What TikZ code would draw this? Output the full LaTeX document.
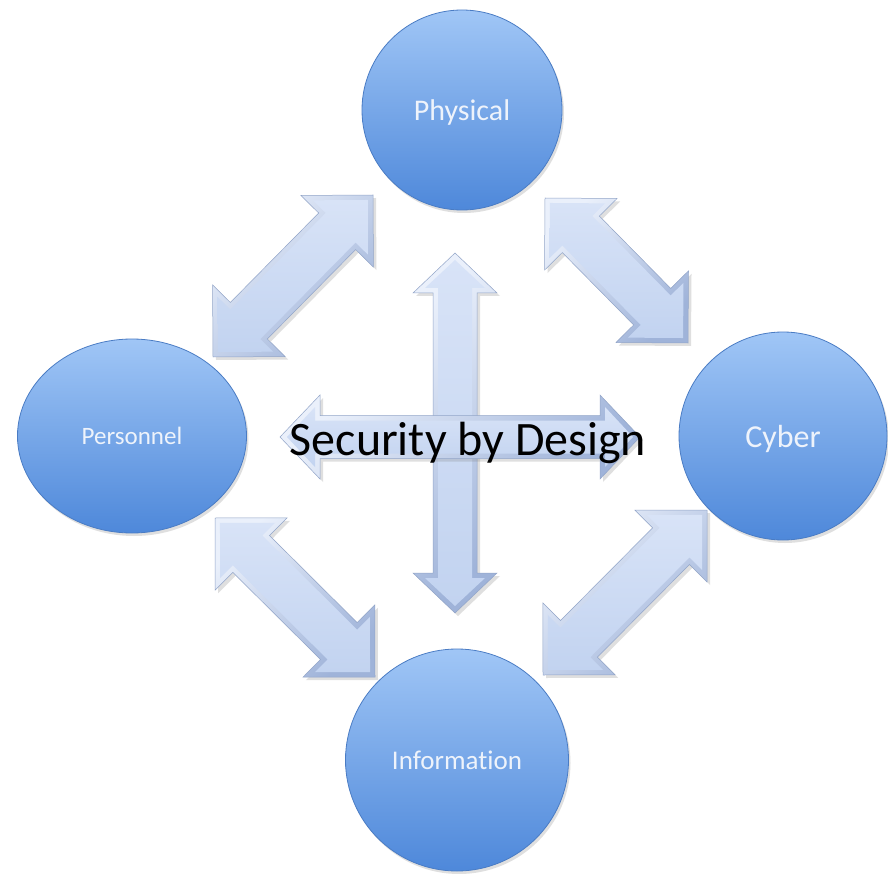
\documentclass[tikz,border=0pt]{standalone}
\usepackage{fontspec}
\setmainfont{Carlito}[Ligatures=NoCommon]
\usetikzlibrary{calc,shadows,shapes.geometric}
\definecolor{arrowhi}{HTML}{EAF0FB}
\definecolor{arrowdark}{HTML}{9FB3D9}
\definecolor{arrowlight}{HTML}{D8E3F7}
\definecolor{arrowmid}{HTML}{C2D3F0}
\definecolor{circtop}{HTML}{A0C6F6}
\definecolor{circmid}{HTML}{6FA2E8}
\definecolor{circbot}{HTML}{4E88DA}
\definecolor{circrim}{HTML}{4A7CC4}
\definecolor{labeltext}{HTML}{EEF3FB}
\tikzset{
  sphere/.style={ellipse, draw=circrim, line width=0.8pt, top color=circtop,
    middle color=circmid, bottom color=circbot, text=labeltext, inner sep=0pt,
    text depth=0pt,
    drop shadow={opacity=0.25, shadow xshift=2pt, shadow yshift=-3pt}},
  arrowouter/.style={top color=arrowhi, bottom color=arrowdark, shading angle=45,
    draw=arrowdark!92!black, line width=0.5pt, line join=miter,
    drop shadow={opacity=0.25, shadow xshift=3pt, shadow yshift=-3pt}},
  arrowinner/.style={top color=arrowlight, bottom color=arrowmid},
}
% #1,#2 tips, #3 head length, #4 half head width, #5 half shaft width, #6 style
\newcommand{\dblarrow}[6]{%
  \coordinate (ca) at ($(#1)!#3!(#2)$);
  \coordinate (cb) at ($(#2)!#3!(#1)$);
  \path[#6] (#1) -- ($(ca)!#4!90:(#2)$) -- ($(ca)!#5!90:(#2)$)
    -- ($(cb)!#5!-90:(#1)$) -- ($(cb)!#4!-90:(#1)$) -- (#2)
    -- ($(cb)!#4!90:(#1)$) -- ($(cb)!#5!90:(#1)$)
    -- ($(ca)!#5!-90:(#2)$) -- ($(ca)!#4!-90:(#2)$) -- cycle;}
\newcommand{\bevelarrow}[8]{% tips, h, H, w, inner h, inner H, inner w
  \dblarrow{#1}{#2}{#3}{#4}{#5}{arrowouter}
  \coordinate (ia) at ($(#1)!7pt!(#2)$);
  \coordinate (ib) at ($(#2)!7pt!(#1)$);
  \dblarrow{ia}{ib}{#6}{#7}{#8}{arrowinner}}
\begin{document}
\begin{tikzpicture}[x=1pt,y=-1pt]
\useasboundingbox[fill=white] (0,0) rectangle (888,874);
% arrow end points
\coordinate (tlA) at (373,195); \coordinate (tlB) at (213,357);
\coordinate (trA) at (545,198); \coordinate (trB) at (688,343);
\coordinate (blA) at (215,518); \coordinate (blB) at (375,677);
\coordinate (brA) at (707,510); \coordinate (brB) at (543,675);
\coordinate (vA) at (455,253);  \coordinate (vB) at (455,613);
\coordinate (hA) at (280,437);  \coordinate (hB) at (640,437);
% diagonal arrows
\bevelarrow{tlA}{tlB}{51pt}{51pt}{26pt}{39pt}{39pt}{21pt}
\bevelarrow{trA}{trB}{51pt}{51pt}{26pt}{39pt}{39pt}{21pt}
\bevelarrow{blA}{blB}{51pt}{51pt}{26pt}{39pt}{39pt}{21pt}
\bevelarrow{brA}{brB}{51pt}{51pt}{26pt}{39pt}{39pt}{21pt}
% cross
\bevelarrow{vA}{vB}{40pt}{42pt}{22pt}{28pt}{30pt}{17pt}
\bevelarrow{hA}{hB}{40pt}{42pt}{21.5pt}{28pt}{30pt}{16.5pt}
% spheres
\node[sphere, minimum width=200pt, minimum height=200pt] (phys) at (462,110)
  {\fontsize{30}{36}\selectfont Physical};
\node[sphere, minimum width=208pt, minimum height=208pt] (cyber) at (783,436)
  {\fontsize{32}{38}\selectfont Cyber};
\node[sphere, minimum width=229pt, minimum height=194pt] (pers) at (132,436)
  {\fontsize{25}{30}\selectfont Personnel};
\node[sphere, minimum width=223pt, minimum height=222pt] (info) at (457,760)
  {\fontsize{27}{32}\selectfont Information};
% title
\node[anchor=base, inner sep=0pt, text=black] (sbd) at (468,455)
  {\fontsize{48}{56}\selectfont Security by Design};
\end{tikzpicture}
\end{document}
